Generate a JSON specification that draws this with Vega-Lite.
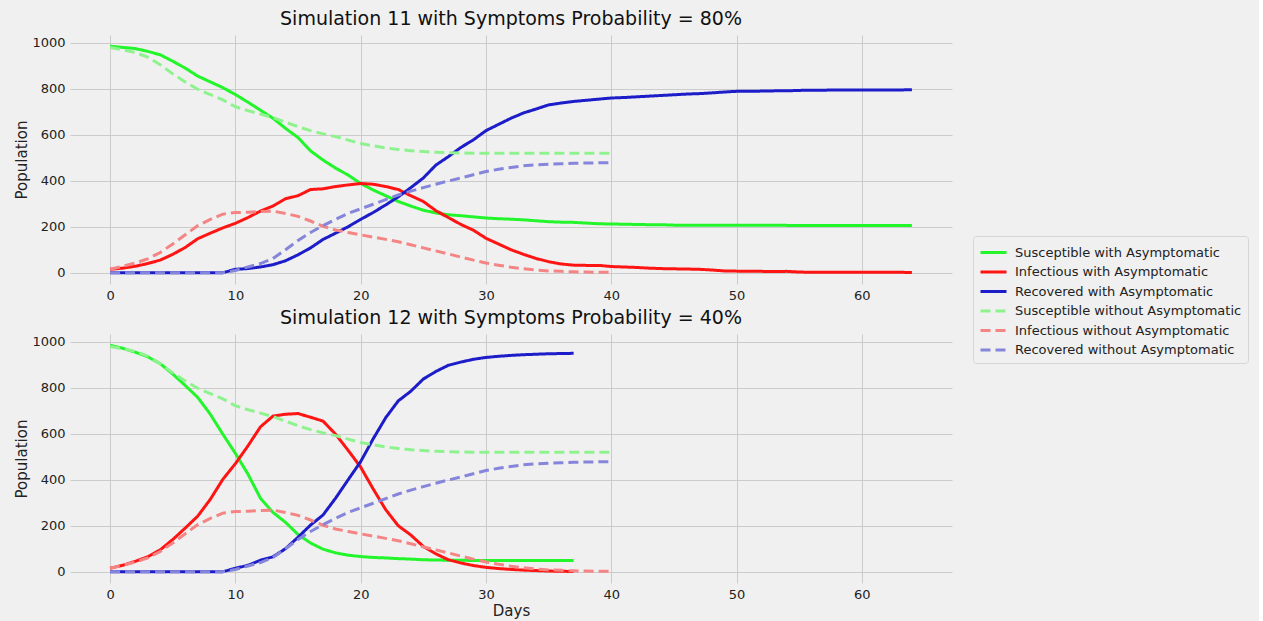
{
  "$schema": "https://vega.github.io/schema/vega-lite/v6.json",
  "background": "#f0f0f0",
  "padding": {"left": 14, "top": 10, "right": 10, "bottom": 4},
  "config": {
    "font": "DejaVu Sans",
    "view": {"stroke": null},
    "axis": {"grid": true, "gridColor": "#cbcbcb", "gridWidth": 1, "domain": false, "ticks": false, "labelFontSize": 13, "labelColor": "#222", "titleFontSize": 15, "titleFontWeight": "normal", "titleColor": "#222", "labelPadding": 5},
    "title": {"fontSize": 19, "fontWeight": "normal", "color": "#111", "offset": 6},
    "concat": {"spacing": 7},
    "line": {"strokeWidth": 3}
  },
  "datasets": {
    "sim11": [
      {"d":0,"Susceptible with Asymptomatic":985,"Infectious with Asymptomatic":15,"Recovered with Asymptomatic":0,"Susceptible without Asymptomatic":980,"Infectious without Asymptomatic":15,"Recovered without Asymptomatic":0},
      {"d":1,"Susceptible with Asymptomatic":980,"Infectious with Asymptomatic":20,"Recovered with Asymptomatic":0,"Susceptible without Asymptomatic":970,"Infectious without Asymptomatic":28,"Recovered without Asymptomatic":0},
      {"d":2,"Susceptible with Asymptomatic":975,"Infectious with Asymptomatic":28,"Recovered with Asymptomatic":0,"Susceptible without Asymptomatic":958,"Infectious without Asymptomatic":42,"Recovered without Asymptomatic":0},
      {"d":3,"Susceptible with Asymptomatic":963,"Infectious with Asymptomatic":40,"Recovered with Asymptomatic":0,"Susceptible without Asymptomatic":938,"Infectious without Asymptomatic":60,"Recovered without Asymptomatic":0},
      {"d":4,"Susceptible with Asymptomatic":948,"Infectious with Asymptomatic":55,"Recovered with Asymptomatic":0,"Susceptible without Asymptomatic":905,"Infectious without Asymptomatic":88,"Recovered without Asymptomatic":0},
      {"d":5,"Susceptible with Asymptomatic":920,"Infectious with Asymptomatic":80,"Recovered with Asymptomatic":0,"Susceptible without Asymptomatic":865,"Infectious without Asymptomatic":125,"Recovered without Asymptomatic":0},
      {"d":6,"Susceptible with Asymptomatic":890,"Infectious with Asymptomatic":110,"Recovered with Asymptomatic":0,"Susceptible without Asymptomatic":830,"Infectious without Asymptomatic":165,"Recovered without Asymptomatic":0},
      {"d":7,"Susceptible with Asymptomatic":855,"Infectious with Asymptomatic":148,"Recovered with Asymptomatic":0,"Susceptible without Asymptomatic":798,"Infectious without Asymptomatic":205,"Recovered without Asymptomatic":0},
      {"d":8,"Susceptible with Asymptomatic":830,"Infectious with Asymptomatic":172,"Recovered with Asymptomatic":0,"Susceptible without Asymptomatic":775,"Infectious without Asymptomatic":232,"Recovered without Asymptomatic":0},
      {"d":9,"Susceptible with Asymptomatic":805,"Infectious with Asymptomatic":195,"Recovered with Asymptomatic":0,"Susceptible without Asymptomatic":752,"Infectious without Asymptomatic":255,"Recovered without Asymptomatic":0},
      {"d":10,"Susceptible with Asymptomatic":775,"Infectious with Asymptomatic":215,"Recovered with Asymptomatic":15,"Susceptible without Asymptomatic":722,"Infectious without Asymptomatic":262,"Recovered without Asymptomatic":10},
      {"d":11,"Susceptible with Asymptomatic":742,"Infectious with Asymptomatic":240,"Recovered with Asymptomatic":18,"Susceptible without Asymptomatic":705,"Infectious without Asymptomatic":263,"Recovered without Asymptomatic":25},
      {"d":12,"Susceptible with Asymptomatic":707,"Infectious with Asymptomatic":268,"Recovered with Asymptomatic":25,"Susceptible without Asymptomatic":690,"Infectious without Asymptomatic":266,"Recovered without Asymptomatic":40},
      {"d":13,"Susceptible with Asymptomatic":672,"Infectious with Asymptomatic":290,"Recovered with Asymptomatic":35,"Susceptible without Asymptomatic":675,"Infectious without Asymptomatic":268,"Recovered without Asymptomatic":62},
      {"d":14,"Susceptible with Asymptomatic":628,"Infectious with Asymptomatic":322,"Recovered with Asymptomatic":52,"Susceptible without Asymptomatic":655,"Infectious without Asymptomatic":258,"Recovered without Asymptomatic":100},
      {"d":15,"Susceptible with Asymptomatic":588,"Infectious with Asymptomatic":335,"Recovered with Asymptomatic":78,"Susceptible without Asymptomatic":635,"Infectious without Asymptomatic":245,"Recovered without Asymptomatic":140},
      {"d":16,"Susceptible with Asymptomatic":530,"Infectious with Asymptomatic":362,"Recovered with Asymptomatic":108,"Susceptible without Asymptomatic":618,"Infectious without Asymptomatic":225,"Recovered without Asymptomatic":175},
      {"d":17,"Susceptible with Asymptomatic":490,"Infectious with Asymptomatic":365,"Recovered with Asymptomatic":145,"Susceptible without Asymptomatic":604,"Infectious without Asymptomatic":202,"Recovered without Asymptomatic":205},
      {"d":18,"Susceptible with Asymptomatic":455,"Infectious with Asymptomatic":375,"Recovered with Asymptomatic":172,"Susceptible without Asymptomatic":592,"Infectious without Asymptomatic":186,"Recovered without Asymptomatic":232},
      {"d":19,"Susceptible with Asymptomatic":425,"Infectious with Asymptomatic":382,"Recovered with Asymptomatic":200,"Susceptible without Asymptomatic":577,"Infectious without Asymptomatic":175,"Recovered without Asymptomatic":258},
      {"d":20,"Susceptible with Asymptomatic":388,"Infectious with Asymptomatic":388,"Recovered with Asymptomatic":232,"Susceptible without Asymptomatic":562,"Infectious without Asymptomatic":165,"Recovered without Asymptomatic":278},
      {"d":21,"Susceptible with Asymptomatic":360,"Infectious with Asymptomatic":385,"Recovered with Asymptomatic":262,"Susceptible without Asymptomatic":552,"Infectious without Asymptomatic":155,"Recovered without Asymptomatic":298},
      {"d":22,"Susceptible with Asymptomatic":335,"Infectious with Asymptomatic":375,"Recovered with Asymptomatic":295,"Susceptible without Asymptomatic":543,"Infectious without Asymptomatic":145,"Recovered without Asymptomatic":318},
      {"d":23,"Susceptible with Asymptomatic":310,"Infectious with Asymptomatic":362,"Recovered with Asymptomatic":330,"Susceptible without Asymptomatic":536,"Infectious without Asymptomatic":135,"Recovered without Asymptomatic":338},
      {"d":24,"Susceptible with Asymptomatic":290,"Infectious with Asymptomatic":335,"Recovered with Asymptomatic":370,"Susceptible without Asymptomatic":531,"Infectious without Asymptomatic":122,"Recovered without Asymptomatic":355},
      {"d":25,"Susceptible with Asymptomatic":272,"Infectious with Asymptomatic":310,"Recovered with Asymptomatic":412,"Susceptible without Asymptomatic":527,"Infectious without Asymptomatic":108,"Recovered without Asymptomatic":370},
      {"d":26,"Susceptible with Asymptomatic":260,"Infectious with Asymptomatic":270,"Recovered with Asymptomatic":468,"Susceptible without Asymptomatic":524,"Infectious without Asymptomatic":95,"Recovered without Asymptomatic":385},
      {"d":27,"Susceptible with Asymptomatic":252,"Infectious with Asymptomatic":240,"Recovered with Asymptomatic":505,"Susceptible without Asymptomatic":522,"Infectious without Asymptomatic":82,"Recovered without Asymptomatic":399},
      {"d":28,"Susceptible with Asymptomatic":248,"Infectious with Asymptomatic":210,"Recovered with Asymptomatic":545,"Susceptible without Asymptomatic":521,"Infectious without Asymptomatic":68,"Recovered without Asymptomatic":412},
      {"d":29,"Susceptible with Asymptomatic":243,"Infectious with Asymptomatic":185,"Recovered with Asymptomatic":578,"Susceptible without Asymptomatic":520,"Infectious without Asymptomatic":55,"Recovered without Asymptomatic":426},
      {"d":30,"Susceptible with Asymptomatic":238,"Infectious with Asymptomatic":150,"Recovered with Asymptomatic":618,"Susceptible without Asymptomatic":520,"Infectious without Asymptomatic":42,"Recovered without Asymptomatic":440},
      {"d":31,"Susceptible with Asymptomatic":235,"Infectious with Asymptomatic":125,"Recovered with Asymptomatic":645,"Susceptible without Asymptomatic":520,"Infectious without Asymptomatic":33,"Recovered without Asymptomatic":450},
      {"d":32,"Susceptible with Asymptomatic":233,"Infectious with Asymptomatic":100,"Recovered with Asymptomatic":672,"Susceptible without Asymptomatic":520,"Infectious without Asymptomatic":24,"Recovered without Asymptomatic":458},
      {"d":33,"Susceptible with Asymptomatic":230,"Infectious with Asymptomatic":80,"Recovered with Asymptomatic":695,"Susceptible without Asymptomatic":520,"Infectious without Asymptomatic":17,"Recovered without Asymptomatic":465},
      {"d":34,"Susceptible with Asymptomatic":226,"Infectious with Asymptomatic":62,"Recovered with Asymptomatic":712,"Susceptible without Asymptomatic":520,"Infectious without Asymptomatic":12,"Recovered without Asymptomatic":469},
      {"d":35,"Susceptible with Asymptomatic":222,"Infectious with Asymptomatic":48,"Recovered with Asymptomatic":730,"Susceptible without Asymptomatic":520,"Infectious without Asymptomatic":8,"Recovered without Asymptomatic":472},
      {"d":36,"Susceptible with Asymptomatic":220,"Infectious with Asymptomatic":38,"Recovered with Asymptomatic":738,"Susceptible without Asymptomatic":520,"Infectious without Asymptomatic":6,"Recovered without Asymptomatic":474},
      {"d":37,"Susceptible with Asymptomatic":219,"Infectious with Asymptomatic":33,"Recovered with Asymptomatic":745,"Susceptible without Asymptomatic":520,"Infectious without Asymptomatic":4,"Recovered without Asymptomatic":476},
      {"d":38,"Susceptible with Asymptomatic":216,"Infectious with Asymptomatic":32,"Recovered with Asymptomatic":750,"Susceptible without Asymptomatic":520,"Infectious without Asymptomatic":3,"Recovered without Asymptomatic":477},
      {"d":39,"Susceptible with Asymptomatic":213,"Infectious with Asymptomatic":32,"Recovered with Asymptomatic":755,"Susceptible without Asymptomatic":520,"Infectious without Asymptomatic":2,"Recovered without Asymptomatic":478},
      {"d":40,"Susceptible with Asymptomatic":212,"Infectious with Asymptomatic":27,"Recovered with Asymptomatic":760,"Susceptible without Asymptomatic":520,"Infectious without Asymptomatic":2,"Recovered without Asymptomatic":479},
      {"d":41,"Susceptible with Asymptomatic":211,"Infectious with Asymptomatic":25,"Recovered with Asymptomatic":762},
      {"d":42,"Susceptible with Asymptomatic":210,"Infectious with Asymptomatic":23,"Recovered with Asymptomatic":765},
      {"d":43,"Susceptible with Asymptomatic":209,"Infectious with Asymptomatic":20,"Recovered with Asymptomatic":768},
      {"d":44,"Susceptible with Asymptomatic":209,"Infectious with Asymptomatic":18,"Recovered with Asymptomatic":771},
      {"d":45,"Susceptible with Asymptomatic":207,"Infectious with Asymptomatic":17,"Recovered with Asymptomatic":774},
      {"d":46,"Susceptible with Asymptomatic":207,"Infectious with Asymptomatic":16,"Recovered with Asymptomatic":777},
      {"d":47,"Susceptible with Asymptomatic":207,"Infectious with Asymptomatic":15,"Recovered with Asymptomatic":779},
      {"d":48,"Susceptible with Asymptomatic":207,"Infectious with Asymptomatic":12,"Recovered with Asymptomatic":782},
      {"d":49,"Susceptible with Asymptomatic":206,"Infectious with Asymptomatic":8,"Recovered with Asymptomatic":786},
      {"d":50,"Susceptible with Asymptomatic":206,"Infectious with Asymptomatic":7,"Recovered with Asymptomatic":789},
      {"d":51,"Susceptible with Asymptomatic":206,"Infectious with Asymptomatic":7,"Recovered with Asymptomatic":789},
      {"d":52,"Susceptible with Asymptomatic":206,"Infectious with Asymptomatic":6,"Recovered with Asymptomatic":790},
      {"d":53,"Susceptible with Asymptomatic":206,"Infectious with Asymptomatic":5,"Recovered with Asymptomatic":791},
      {"d":54,"Susceptible with Asymptomatic":206,"Infectious with Asymptomatic":6,"Recovered with Asymptomatic":791},
      {"d":55,"Susceptible with Asymptomatic":205,"Infectious with Asymptomatic":3,"Recovered with Asymptomatic":793},
      {"d":56,"Susceptible with Asymptomatic":205,"Infectious with Asymptomatic":2,"Recovered with Asymptomatic":794},
      {"d":57,"Susceptible with Asymptomatic":205,"Infectious with Asymptomatic":2,"Recovered with Asymptomatic":794},
      {"d":58,"Susceptible with Asymptomatic":205,"Infectious with Asymptomatic":2,"Recovered with Asymptomatic":795},
      {"d":59,"Susceptible with Asymptomatic":205,"Infectious with Asymptomatic":2,"Recovered with Asymptomatic":795},
      {"d":60,"Susceptible with Asymptomatic":205,"Infectious with Asymptomatic":2,"Recovered with Asymptomatic":795},
      {"d":61,"Susceptible with Asymptomatic":205,"Infectious with Asymptomatic":2,"Recovered with Asymptomatic":795},
      {"d":62,"Susceptible with Asymptomatic":205,"Infectious with Asymptomatic":2,"Recovered with Asymptomatic":795},
      {"d":63,"Susceptible with Asymptomatic":205,"Infectious with Asymptomatic":2,"Recovered with Asymptomatic":795},
      {"d":64,"Susceptible with Asymptomatic":205,"Infectious with Asymptomatic":1,"Recovered with Asymptomatic":796}
    ],
    "sim12": [
      {"d":0,"Susceptible with Asymptomatic":985,"Infectious with Asymptomatic":15,"Recovered with Asymptomatic":0,"Susceptible without Asymptomatic":980,"Infectious without Asymptomatic":15,"Recovered without Asymptomatic":0},
      {"d":1,"Susceptible with Asymptomatic":972,"Infectious with Asymptomatic":28,"Recovered with Asymptomatic":0,"Susceptible without Asymptomatic":970,"Infectious without Asymptomatic":28,"Recovered without Asymptomatic":0},
      {"d":2,"Susceptible with Asymptomatic":955,"Infectious with Asymptomatic":45,"Recovered with Asymptomatic":0,"Susceptible without Asymptomatic":958,"Infectious without Asymptomatic":42,"Recovered without Asymptomatic":0},
      {"d":3,"Susceptible with Asymptomatic":935,"Infectious with Asymptomatic":65,"Recovered with Asymptomatic":0,"Susceptible without Asymptomatic":938,"Infectious without Asymptomatic":60,"Recovered without Asymptomatic":0},
      {"d":4,"Susceptible with Asymptomatic":905,"Infectious with Asymptomatic":95,"Recovered with Asymptomatic":0,"Susceptible without Asymptomatic":905,"Infectious without Asymptomatic":88,"Recovered without Asymptomatic":0},
      {"d":5,"Susceptible with Asymptomatic":860,"Infectious with Asymptomatic":140,"Recovered with Asymptomatic":0,"Susceptible without Asymptomatic":865,"Infectious without Asymptomatic":125,"Recovered without Asymptomatic":0},
      {"d":6,"Susceptible with Asymptomatic":810,"Infectious with Asymptomatic":190,"Recovered with Asymptomatic":0,"Susceptible without Asymptomatic":830,"Infectious without Asymptomatic":165,"Recovered without Asymptomatic":0},
      {"d":7,"Susceptible with Asymptomatic":758,"Infectious with Asymptomatic":242,"Recovered with Asymptomatic":0,"Susceptible without Asymptomatic":798,"Infectious without Asymptomatic":205,"Recovered without Asymptomatic":0},
      {"d":8,"Susceptible with Asymptomatic":685,"Infectious with Asymptomatic":315,"Recovered with Asymptomatic":0,"Susceptible without Asymptomatic":775,"Infectious without Asymptomatic":232,"Recovered without Asymptomatic":0},
      {"d":9,"Susceptible with Asymptomatic":598,"Infectious with Asymptomatic":402,"Recovered with Asymptomatic":0,"Susceptible without Asymptomatic":752,"Infectious without Asymptomatic":255,"Recovered without Asymptomatic":0},
      {"d":10,"Susceptible with Asymptomatic":515,"Infectious with Asymptomatic":470,"Recovered with Asymptomatic":15,"Susceptible without Asymptomatic":722,"Infectious without Asymptomatic":262,"Recovered without Asymptomatic":10},
      {"d":11,"Susceptible with Asymptomatic":425,"Infectious with Asymptomatic":547,"Recovered with Asymptomatic":28,"Susceptible without Asymptomatic":705,"Infectious without Asymptomatic":263,"Recovered without Asymptomatic":25},
      {"d":12,"Susceptible with Asymptomatic":320,"Infectious with Asymptomatic":630,"Recovered with Asymptomatic":50,"Susceptible without Asymptomatic":690,"Infectious without Asymptomatic":266,"Recovered without Asymptomatic":40},
      {"d":13,"Susceptible with Asymptomatic":258,"Infectious with Asymptomatic":677,"Recovered with Asymptomatic":65,"Susceptible without Asymptomatic":675,"Infectious without Asymptomatic":268,"Recovered without Asymptomatic":62},
      {"d":14,"Susceptible with Asymptomatic":215,"Infectious with Asymptomatic":685,"Recovered with Asymptomatic":100,"Susceptible without Asymptomatic":655,"Infectious without Asymptomatic":258,"Recovered without Asymptomatic":100},
      {"d":15,"Susceptible with Asymptomatic":162,"Infectious with Asymptomatic":688,"Recovered with Asymptomatic":150,"Susceptible without Asymptomatic":635,"Infectious without Asymptomatic":245,"Recovered without Asymptomatic":140},
      {"d":16,"Susceptible with Asymptomatic":125,"Infectious with Asymptomatic":672,"Recovered with Asymptomatic":203,"Susceptible without Asymptomatic":618,"Infectious without Asymptomatic":225,"Recovered without Asymptomatic":175},
      {"d":17,"Susceptible with Asymptomatic":98,"Infectious with Asymptomatic":655,"Recovered with Asymptomatic":247,"Susceptible without Asymptomatic":604,"Infectious without Asymptomatic":202,"Recovered without Asymptomatic":205},
      {"d":18,"Susceptible with Asymptomatic":82,"Infectious with Asymptomatic":598,"Recovered with Asymptomatic":320,"Susceptible without Asymptomatic":592,"Infectious without Asymptomatic":186,"Recovered without Asymptomatic":232},
      {"d":19,"Susceptible with Asymptomatic":72,"Infectious with Asymptomatic":528,"Recovered with Asymptomatic":400,"Susceptible without Asymptomatic":577,"Infectious without Asymptomatic":175,"Recovered without Asymptomatic":258},
      {"d":20,"Susceptible with Asymptomatic":66,"Infectious with Asymptomatic":455,"Recovered with Asymptomatic":479,"Susceptible without Asymptomatic":562,"Infectious without Asymptomatic":165,"Recovered without Asymptomatic":278},
      {"d":21,"Susceptible with Asymptomatic":62,"Infectious with Asymptomatic":360,"Recovered with Asymptomatic":578,"Susceptible without Asymptomatic":552,"Infectious without Asymptomatic":155,"Recovered without Asymptomatic":298},
      {"d":22,"Susceptible with Asymptomatic":60,"Infectious with Asymptomatic":270,"Recovered with Asymptomatic":670,"Susceptible without Asymptomatic":543,"Infectious without Asymptomatic":145,"Recovered without Asymptomatic":318},
      {"d":23,"Susceptible with Asymptomatic":57,"Infectious with Asymptomatic":200,"Recovered with Asymptomatic":743,"Susceptible without Asymptomatic":536,"Infectious without Asymptomatic":135,"Recovered without Asymptomatic":338},
      {"d":24,"Susceptible with Asymptomatic":55,"Infectious with Asymptomatic":160,"Recovered with Asymptomatic":785,"Susceptible without Asymptomatic":531,"Infectious without Asymptomatic":122,"Recovered without Asymptomatic":355},
      {"d":25,"Susceptible with Asymptomatic":52,"Infectious with Asymptomatic":110,"Recovered with Asymptomatic":838,"Susceptible without Asymptomatic":527,"Infectious without Asymptomatic":108,"Recovered without Asymptomatic":370},
      {"d":26,"Susceptible with Asymptomatic":51,"Infectious with Asymptomatic":78,"Recovered with Asymptomatic":871,"Susceptible without Asymptomatic":524,"Infectious without Asymptomatic":95,"Recovered without Asymptomatic":385},
      {"d":27,"Susceptible with Asymptomatic":50,"Infectious with Asymptomatic":52,"Recovered with Asymptomatic":898,"Susceptible without Asymptomatic":522,"Infectious without Asymptomatic":82,"Recovered without Asymptomatic":399},
      {"d":28,"Susceptible with Asymptomatic":50,"Infectious with Asymptomatic":38,"Recovered with Asymptomatic":912,"Susceptible without Asymptomatic":521,"Infectious without Asymptomatic":68,"Recovered without Asymptomatic":412},
      {"d":29,"Susceptible with Asymptomatic":49,"Infectious with Asymptomatic":27,"Recovered with Asymptomatic":924,"Susceptible without Asymptomatic":520,"Infectious without Asymptomatic":55,"Recovered without Asymptomatic":426},
      {"d":30,"Susceptible with Asymptomatic":49,"Infectious with Asymptomatic":19,"Recovered with Asymptomatic":932,"Susceptible without Asymptomatic":520,"Infectious without Asymptomatic":42,"Recovered without Asymptomatic":440},
      {"d":31,"Susceptible with Asymptomatic":49,"Infectious with Asymptomatic":14,"Recovered with Asymptomatic":937,"Susceptible without Asymptomatic":520,"Infectious without Asymptomatic":33,"Recovered without Asymptomatic":450},
      {"d":32,"Susceptible with Asymptomatic":49,"Infectious with Asymptomatic":10,"Recovered with Asymptomatic":941,"Susceptible without Asymptomatic":520,"Infectious without Asymptomatic":24,"Recovered without Asymptomatic":458},
      {"d":33,"Susceptible with Asymptomatic":49,"Infectious with Asymptomatic":7,"Recovered with Asymptomatic":944,"Susceptible without Asymptomatic":520,"Infectious without Asymptomatic":17,"Recovered without Asymptomatic":465},
      {"d":34,"Susceptible with Asymptomatic":49,"Infectious with Asymptomatic":5,"Recovered with Asymptomatic":946,"Susceptible without Asymptomatic":520,"Infectious without Asymptomatic":12,"Recovered without Asymptomatic":469},
      {"d":35,"Susceptible with Asymptomatic":49,"Infectious with Asymptomatic":3,"Recovered with Asymptomatic":948,"Susceptible without Asymptomatic":520,"Infectious without Asymptomatic":8,"Recovered without Asymptomatic":472},
      {"d":36,"Susceptible with Asymptomatic":49,"Infectious with Asymptomatic":2,"Recovered with Asymptomatic":949,"Susceptible without Asymptomatic":520,"Infectious without Asymptomatic":6,"Recovered without Asymptomatic":474},
      {"d":37,"Susceptible with Asymptomatic":49,"Infectious with Asymptomatic":1,"Recovered with Asymptomatic":950,"Susceptible without Asymptomatic":520,"Infectious without Asymptomatic":4,"Recovered without Asymptomatic":476},
      {"d":38,"Susceptible without Asymptomatic":520,"Infectious without Asymptomatic":3,"Recovered without Asymptomatic":477},
      {"d":39,"Susceptible without Asymptomatic":520,"Infectious without Asymptomatic":2,"Recovered without Asymptomatic":478},
      {"d":40,"Susceptible without Asymptomatic":520,"Infectious without Asymptomatic":2,"Recovered without Asymptomatic":479}
    ]
  },
  "vconcat": [
    {
      "title": "Simulation 11 with Symptoms Probability = 80%",
      "width": 882, "height": 249,
      "data": {"name": "sim11"},
      "transform": [
        {"fold": ["Susceptible with Asymptomatic","Infectious with Asymptomatic","Recovered with Asymptomatic","Susceptible without Asymptomatic","Infectious without Asymptomatic","Recovered without Asymptomatic"], "as": ["series","value"]},
        {"filter": "isValid(datum.value)"}
      ],
      "mark": {"type": "line", "strokeWidth": 3},
      "encoding": {
        "x": {"field": "d", "type": "quantitative", "scale": {"domain": [-3.2, 67.2], "nice": false, "zero": false}, "axis": {"values": [0,10,20,30,40,50,60], "title": null}},
        "y": {"field": "value", "type": "quantitative", "scale": {"domain": [-49, 1034], "nice": false}, "axis": {"values": [0,200,400,600,800,1000], "format": "d", "title": "Population", "titlePadding": 2}},
        "color": {"field": "series", "type": "nominal", "title": null,
          "scale": {"domain": ["Susceptible with Asymptomatic","Infectious with Asymptomatic","Recovered with Asymptomatic","Susceptible without Asymptomatic","Infectious without Asymptomatic","Recovered without Asymptomatic"],
                    "range": ["#22f52a","#ff1414","#1c1cc8","#8ef38e","#f58484","#8585dc"]},
          "legend": {"orient": "none", "legendX": 903, "legendY": 201, "fillColor": "#f0f0f0", "strokeColor": "#d6d6d6", "cornerRadius": 3, "padding": 6, "labelFontSize": 13, "labelColor": "#222", "labelLimit": 400, "symbolType": "M-1,0H1.89", "symbolSize": 324, "symbolStrokeWidth": 3, "rowPadding": 1.5, "labelOffset": 15}},
        "strokeDash": {"field": "series", "type": "nominal", "title": null,
          "scale": {"domain": ["Susceptible with Asymptomatic","Infectious with Asymptomatic","Recovered with Asymptomatic","Susceptible without Asymptomatic","Infectious without Asymptomatic","Recovered without Asymptomatic"],
                    "range": [[1,0],[1,0],[1,0],[10,5],[10,5],[10,5]]}}
      }
    },
    {
      "title": "Simulation 12 with Symptoms Probability = 40%",
      "width": 882, "height": 249,
      "data": {"name": "sim12"},
      "transform": [
        {"fold": ["Susceptible with Asymptomatic","Infectious with Asymptomatic","Recovered with Asymptomatic","Susceptible without Asymptomatic","Infectious without Asymptomatic","Recovered without Asymptomatic"], "as": ["series","value"]},
        {"filter": "isValid(datum.value)"}
      ],
      "mark": {"type": "line", "strokeWidth": 3},
      "encoding": {
        "x": {"field": "d", "type": "quantitative", "scale": {"domain": [-3.2, 67.2], "nice": false, "zero": false}, "axis": {"values": [0,10,20,30,40,50,60], "title": "Days", "titlePadding": 2}},
        "y": {"field": "value", "type": "quantitative", "scale": {"domain": [-49, 1034], "nice": false}, "axis": {"values": [0,200,400,600,800,1000], "format": "d", "title": "Population", "titlePadding": 2}},
        "color": {"field": "series", "type": "nominal", "title": null,
          "scale": {"domain": ["Susceptible with Asymptomatic","Infectious with Asymptomatic","Recovered with Asymptomatic","Susceptible without Asymptomatic","Infectious without Asymptomatic","Recovered without Asymptomatic"],
                    "range": ["#22f52a","#ff1414","#1c1cc8","#8ef38e","#f58484","#8585dc"]}},
        "strokeDash": {"field": "series", "type": "nominal", "title": null,
          "scale": {"domain": ["Susceptible with Asymptomatic","Infectious with Asymptomatic","Recovered with Asymptomatic","Susceptible without Asymptomatic","Infectious without Asymptomatic","Recovered without Asymptomatic"],
                    "range": [[1,0],[1,0],[1,0],[10,5],[10,5],[10,5]]}}
      }
    }
  ]
}
